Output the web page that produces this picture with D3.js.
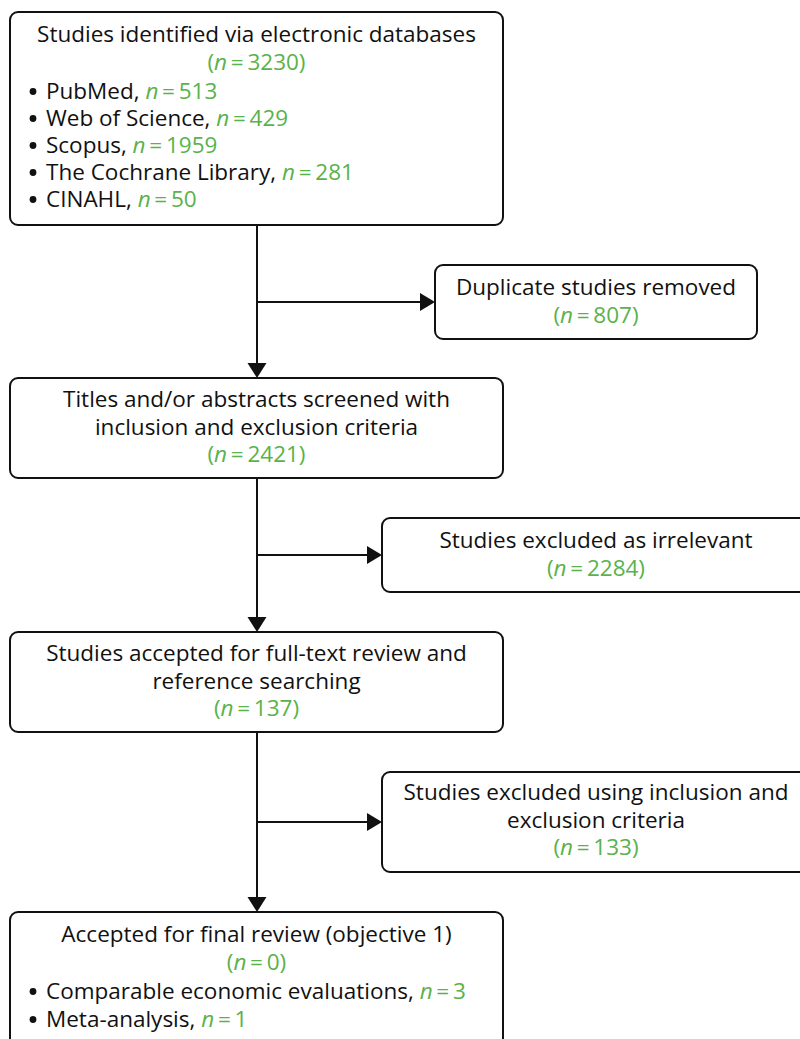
<!DOCTYPE html>
<html>
<head>
<meta charset="utf-8">
<script src="https://cdn.jsdelivr.net/npm/d3@7"></script>
<style>
  html, body { margin: 0; padding: 0; background: #fff; }
  svg { display: block; }
  text { font-family: "Open Sans", "Noto Sans", sans-serif; font-size: 22.5px; fill: #111; }
</style>
</head>
<body>
<svg id="chart" width="800" height="1039"></svg>
<script>
// ---- Data ----
const mainStages = [
  ["Studies identified via electronic databases"],
  ["Titles and/or abstracts screened with", "inclusion and exclusion criteria"],
  ["Studies accepted for full-text review and", "reference searching"],
  ["Accepted for final review (objective 1)"]
];
const mainCounts = [3230, 2421, 137, 0];
const sourceNames = ["PubMed", "Web of Science", "Scopus", "The Cochrane Library", "CINAHL"];
const sourceCounts = [513, 429, 1959, 281, 50];
const exclusionLabels = [
  ["Duplicate studies removed"],
  ["Studies excluded as irrelevant"],
  ["Studies excluded using inclusion and", "exclusion criteria"]
];
const exclusionCounts = [807, 2284, 133];
const finalItems = ["Comparable economic evaluations", "Meta-analysis"];
const finalCounts = [3, 1];

// ---- Layout ----
const GREEN = "#5ab24a";
const svg = d3.select("#chart");
const LH = 27.5;
const mainX = 10, mainW = 493;
const spineX = 257;
const mainBoxes = [
  {y: 12, h: 213, firstBase: 42},
  {y: 378, h: 100, firstBase: 407},
  {y: 632, h: 100, firstBase: 661},
  {y: 912, h: 140, firstBase: 942}
];
const sideBoxes = [
  {x: 435, w: 322, y: 265, h: 74, firstBase: 295, arrowY: 302},
  {x: 382, w: 428, y: 518, h: 74, firstBase: 548, arrowY: 555},
  {x: 382, w: 428, y: 772, h: 100, firstBase: 800, arrowY: 822}
];

function countText(sel, n, paren) {
  sel.append("tspan").style("fill", GREEN).text(paren ? "(" : "");
  sel.append("tspan").style("fill", GREEN).style("font-style", "italic").text("n");
  sel.append("tspan").style("fill", GREEN).text("\u2009=\u2009" + n + (paren ? ")" : ""));
}

function drawBox(x, y, w, h) {
  svg.append("rect").attr("x", x).attr("y", y).attr("width", w).attr("height", h)
    .attr("rx", 8).attr("ry", 8).attr("fill", "#fff").attr("stroke", "#111").attr("stroke-width", 2);
}

// connectors
const lines = svg.append("g").attr("stroke", "#111").attr("stroke-width", 2);
for (let i = 0; i < 3; i++) {
  const top = mainBoxes[i].y + mainBoxes[i].h;
  const bot = mainBoxes[i + 1].y;
  lines.append("line").attr("x1", spineX).attr("x2", spineX).attr("y1", top).attr("y2", bot - 14);
  svg.append("path").attr("fill", "#111")
    .attr("d", d3.line()([[spineX - 9.5, bot - 15], [spineX + 9.5, bot - 15], [spineX, bot]]) + "Z");
  const sb = sideBoxes[i];
  lines.append("line").attr("x1", spineX).attr("x2", sb.x - 14).attr("y1", sb.arrowY).attr("y2", sb.arrowY);
  svg.append("path").attr("fill", "#111")
    .attr("d", d3.line()([[sb.x - 15, sb.arrowY - 9], [sb.x - 15, sb.arrowY + 9], [sb.x, sb.arrowY]]) + "Z");
}

// main boxes
mainBoxes.forEach((b, i) => {
  drawBox(mainX, b.y, mainW, b.h);
  const cx = mainX + mainW / 2;
  let base = b.firstBase;
  mainStages[i].forEach(line => {
    svg.append("text").attr("x", cx).attr("y", base).attr("text-anchor", "middle").text(line);
    base += LH;
  });
  countText(svg.append("text").attr("x", cx).attr("y", base).attr("text-anchor", "middle"), mainCounts[i], true);
  base += LH + 2;
  let items = [], counts = [];
  if (i === 0) { items = sourceNames; counts = sourceCounts; }
  if (i === 3) { items = finalItems; counts = finalCounts; }
  items.forEach((name, k) => {
    svg.append("circle").attr("cx", 33).attr("cy", base - 7.5).attr("r", 3.4).attr("fill", "#111");
    const t = svg.append("text").attr("x", 46).attr("y", base);
    t.append("tspan").text(name + ", ");
    countText(t, counts[k], false);
    base += (i === 0 ? 27 : 28);
  });
});

// side boxes
sideBoxes.forEach((b, i) => {
  drawBox(b.x, b.y, b.w, b.h);
  const cx = b.x + b.w / 2;
  let base = b.firstBase;
  exclusionLabels[i].forEach(line => {
    svg.append("text").attr("x", cx).attr("y", base).attr("text-anchor", "middle").text(line);
    base += LH;
  });
  countText(svg.append("text").attr("x", cx).attr("y", base).attr("text-anchor", "middle"), exclusionCounts[i], true);
});
</script>
</body>
</html>
